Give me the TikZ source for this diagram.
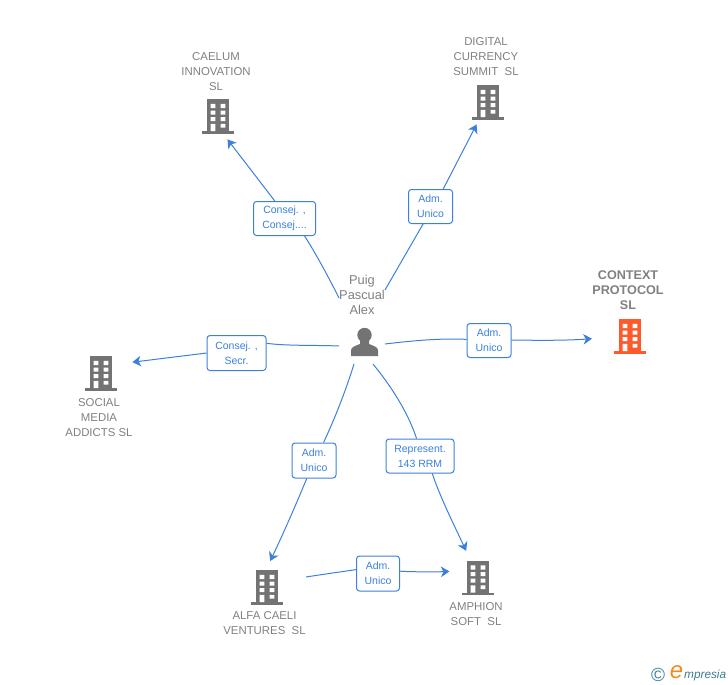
\documentclass[tikz,border=0pt]{standalone}
\usepackage{fontspec}
\usetikzlibrary{arrows.meta}
\setmainfont{Liberation Sans}
\definecolor{linkblue}{HTML}{3C80DC}
\definecolor{txtgray}{HTML}{808080}
\definecolor{icongray}{HTML}{737373}
\definecolor{hot}{HTML}{FF5A2B}
\definecolor{logoteal}{HTML}{3B7C94}
\definecolor{logoorange}{HTML}{F28A1E}
\tikzset{
  x=1pt,y=-1pt,
  link/.style={draw=linkblue,line width=1pt},
  arrowlink/.style={link,-{Stealth[length=8.5pt,width=10.5pt,inset=2.5pt]}},
  role/.style={draw=linkblue,line width=1pt,rounded corners=3pt,fill=white,align=center,
    text=linkblue,font=\fontsize{10.5}{15}\selectfont,inner sep=0pt,
    execute at begin node=\rule{0pt}{10pt}\ignorespaces},
  nametext/.style={text=txtgray,align=center,font=\fontsize{11.4}{15}\selectfont,inner sep=0pt},
  bldg/.style={circle,inner sep=0pt,minimum size=#1},
  buildingicon/.pic={
    \fill[pic actions] (-11.3,-17) rectangle (11.3,16);
    \fill[pic actions] (-16,15) rectangle (16,17.5);
    \fill[white] (-7.3,-12.2) rectangle (-2.7,-8) (2.7,-12.2) rectangle (7.3,-8)
      (-7.3,-5.5) rectangle (-2.7,-1.4) (2.7,-5.5) rectangle (7.3,-1.4)
      (-7.3,1.1) rectangle (-2.7,5) (2.7,1.1) rectangle (7.3,5)
      (-7.3,7.8) rectangle (-2.7,15) (2.7,7.8) rectangle (7.3,11.6);
  }
}
\begin{document}
\begin{tikzpicture}
\useasboundingbox (0,0) rectangle (728,685);
% buildings
\node[bldg=50pt] (caelum) at (218,116) {};
\node[bldg=50pt] (digital) at (488,102) {};
\node[bldg=76pt] (context) at (630,336) {};
\node[bldg=66pt] (social) at (101,373) {};
\node[bldg=52pt] (alfa) at (267,587) {};
\node[bldg=58pt] (amphion) at (478,577.5) {};
\pic[fill=icongray] at (caelum) {buildingicon};
\pic[fill=icongray] at (digital) {buildingicon};
\pic[fill=hot] at (context) {buildingicon};
\pic[fill=icongray] at (social) {buildingicon};
\pic[fill=icongray] at (alfa) {buildingicon};
\pic[fill=icongray] at (amphion) {buildingicon};
% names
\node[nametext] (ncaelum) at (216,71.5) {CAELUM\\INNOVATION\\SL};
\node[nametext] (ndigital) at (486,56.5) {DIGITAL\\CURRENCY\\SUMMIT\ \ SL};
\node[nametext,font=\fontsize{12.6}{15}\selectfont\bfseries] (ncontext) at (628,290) {CONTEXT\\PROTOCOL\\SL};
\node[nametext] (nsocial) at (99,417.5) {SOCIAL\\MEDIA\\ADDICTS SL};
\node[nametext] (nalfa) at (264.5,623.5) {ALFA CAELI\\VENTURES\ \ SL};
\node[nametext] (namphion) at (476,614.5) {AMPHION\\SOFT\ \ SL};
\node[nametext,font=\fontsize{12.8}{15}\selectfont] (nperson) at (362,295) {Puig\\Pascual\\Alex};
% person
\node[inner sep=0pt,minimum width=28pt,minimum height=29pt] (person) at (364.5,342.5) {};
\fill[icongray] (364.5,335) ellipse [x radius=7.2,y radius=7.2];
\fill[icongray] (351,356) -- (351,350.5) .. controls (351,347) and (355,346) .. (360,344)
  -- (360,340) -- (369,340) -- (369,344)
  .. controls (374,346) and (378,347) .. (378,350.5) -- (378,356) -- cycle;
% role boxes
\node[role,minimum width=62pt,minimum height=34pt] (r1) at (284.5,218.5) {Consej. ,\\Consej....};
\node[role,minimum width=44pt,minimum height=34pt] (r2) at (430.5,206.5) {Adm.\\Unico};
\node[role,minimum width=44pt,minimum height=34pt] (r3) at (489,340.5) {Adm.\\Unico};
\node[role,minimum width=59pt,minimum height=35pt] (r4) at (236.5,353) {Consej. ,\\Secr.};
\node[role,minimum width=44pt,minimum height=35pt] (r5) at (314,460.5) {Adm.\\Unico};
\node[role,minimum width=68pt,minimum height=34pt] (r6) at (420,456) {Represent.\\143 RRM};
\node[role,minimum width=43pt,minimum height=35pt] (r7) at (378,573.5) {Adm.\\Unico};
% free ends of the connectors
\coordinate (s1) at (339,298);
\coordinate (s2) at (385,290);
\coordinate (s3) at (385,344);
\coordinate (s4) at (339,346);
\coordinate (s5) at (354,364);
\coordinate (s6) at (373,364);
\coordinate (s7) at (306,577);
% connectors
\draw[link] (s1) .. controls (328,276) and (316,254) .. (r1.-41);
\draw[arrowlink] (r1.119) -- (caelum.-68);
\draw[link] (s2) -- (r2.-113);
\draw[arrowlink] (r2.54) -- (digital.-117);
\draw[link] (s3) .. controls (410,341) and (440,338) .. (r3);
\draw[arrowlink] (r3) .. controls (530,340) and (560,341) .. (context.184.5);
\draw[link] (s4) .. controls (315,345) and (285,346) .. (r4.18);
\draw[arrowlink] (r4.west) -- (social.19.5);
\draw[link] (s5) .. controls (346,390) and (335,418) .. (r5.62);
\draw[arrowlink] (r5.-112) .. controls (297,502) and (285,530) .. (alfa.83);
\draw[link] (s6) .. controls (390,385) and (407,410) .. (r6.101);
\draw[arrowlink] (r6.-55) .. controls (440,497) and (455,527) .. (amphion.114);
\draw[link] (s7) .. controls (325,574) and (340,572) .. (r7.170);
\draw[arrowlink] (r7.6) .. controls (415,572) and (435,572) .. (amphion.168);
% logo
\node[inner sep=0pt,text=logoteal,font=\fontsize{19}{19}\selectfont] (copyr) at (658,674.5) {©};
\node[inner sep=0pt,text=logoorange,font=\itshape\fontsize{24}{24}\selectfont] (loge) at (676.5,672) {e};
\node[inner sep=0pt,text=logoteal,anchor=west,font=\itshape\fontsize{11.8}{14}\selectfont] (logot) at (684,675) {mpresia};
\end{tikzpicture}
\end{document}
